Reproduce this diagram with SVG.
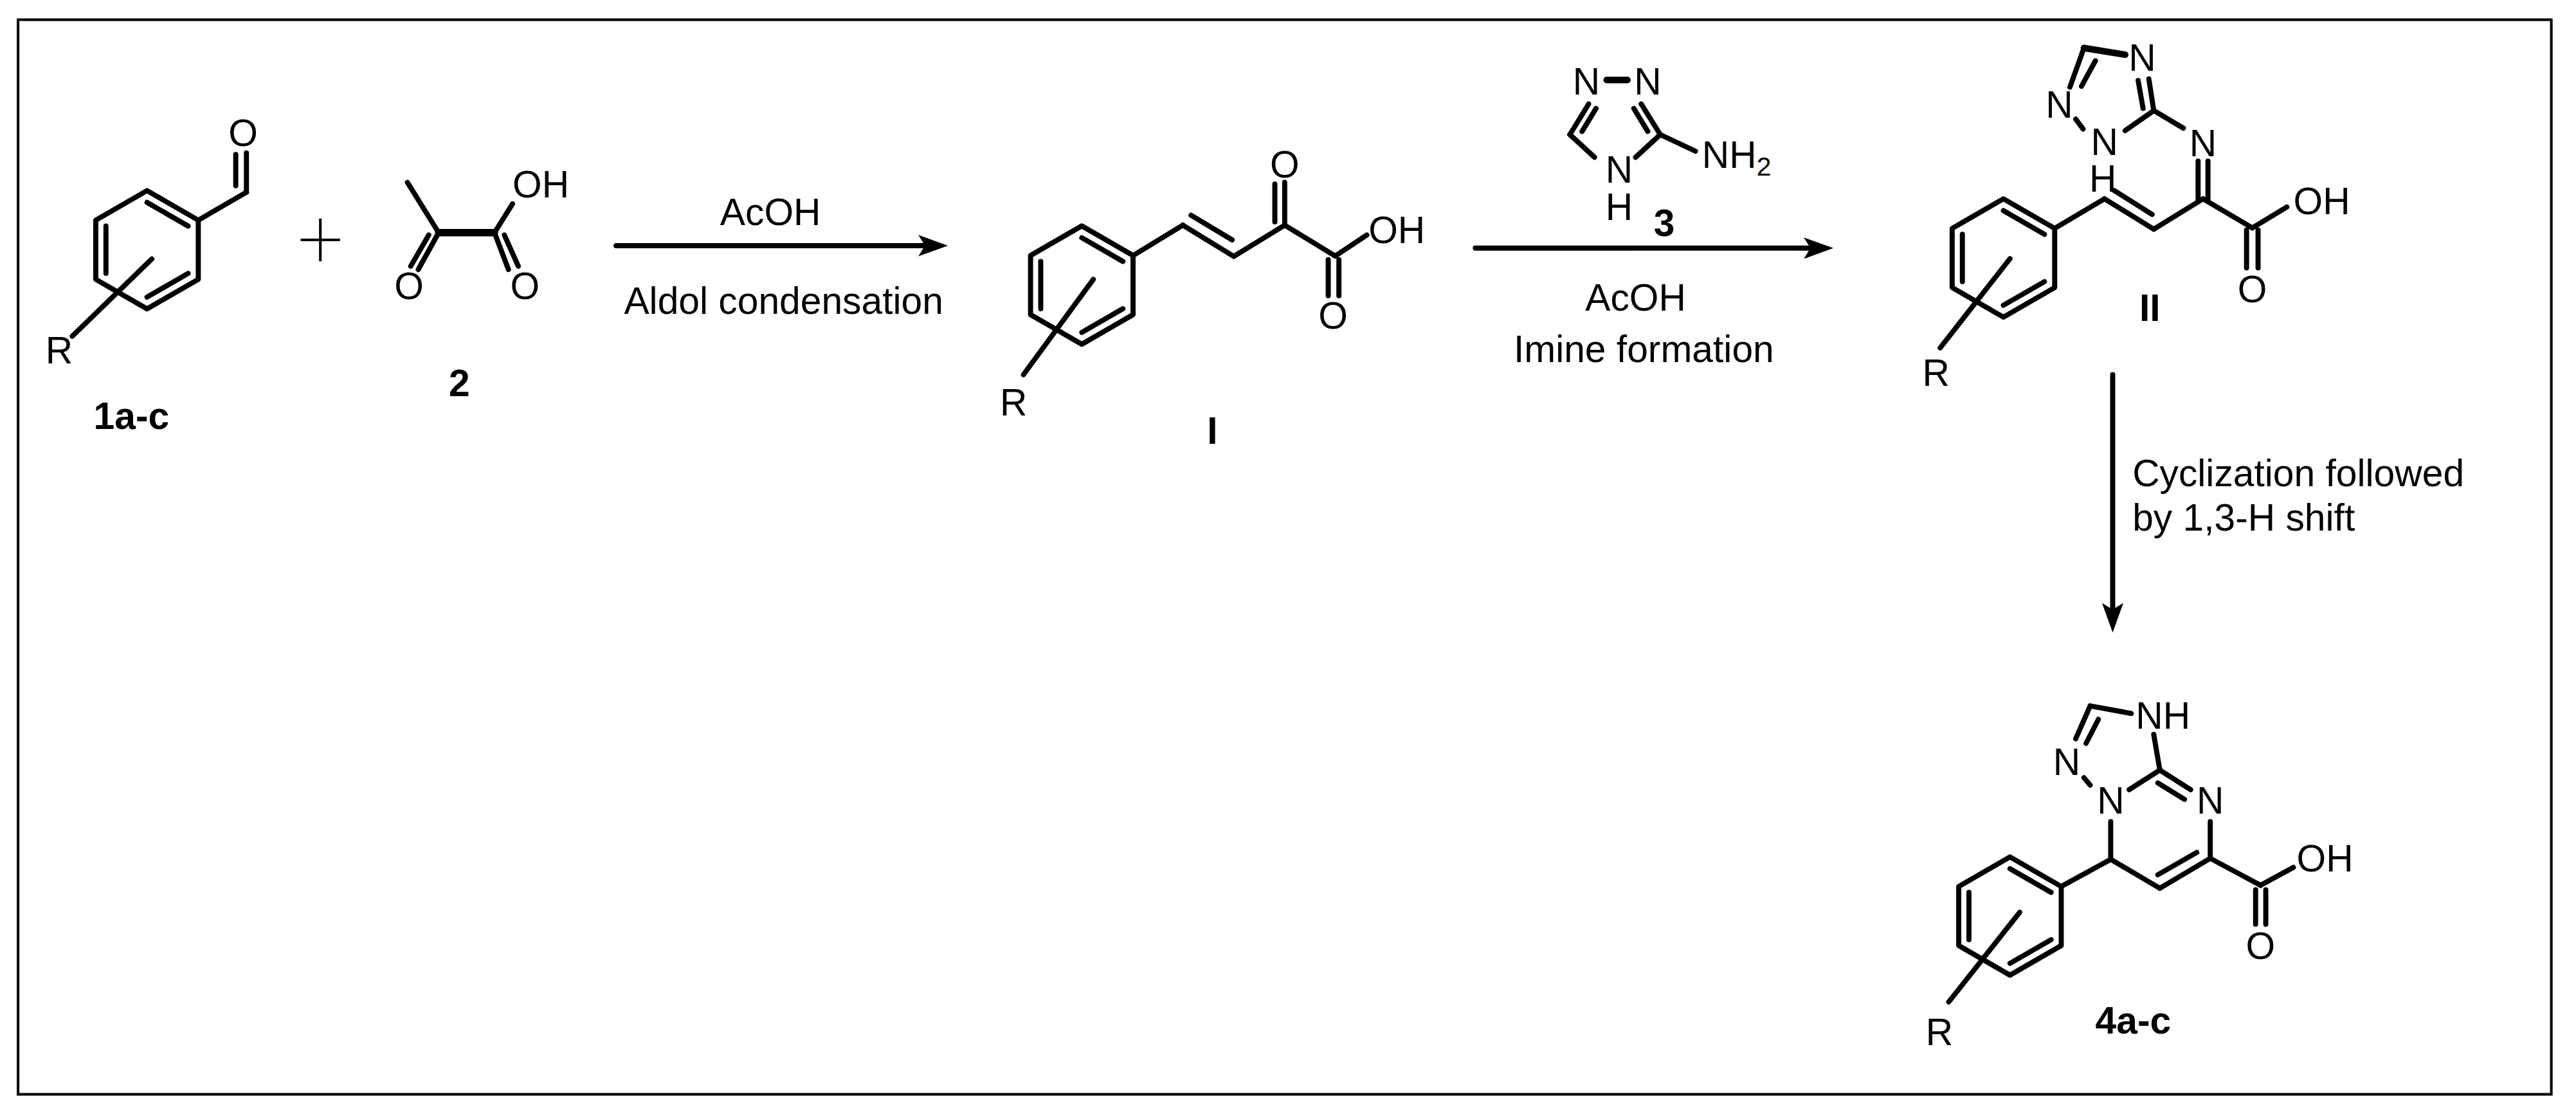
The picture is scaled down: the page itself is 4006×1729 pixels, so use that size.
<svg xmlns="http://www.w3.org/2000/svg" xmlns:xlink="http://www.w3.org/1999/xlink" width="4006" height="1729" viewBox="0 0 4006 1729">
<style>
.b{stroke:#000;stroke-width:3.1;fill:none;stroke-linecap:round;stroke-linejoin:round}
.t{font-family:"Liberation Sans",Arial,sans-serif;font-size:23px;fill:#000}
.c{text-anchor:middle}
.bold{font-weight:bold}
.thin{stroke:#000;stroke-width:1.6;fill:none}
</style>
<defs>
<g id="benz" class="b">
<polygon points="0,-36 31.2,-18 31.2,18 0,36 -31.2,18 -31.2,-18"/>
<line x1="0" y1="-28.8" x2="25" y2="-14.4"/>
<line x1="25" y1="14.4" x2="0" y2="28.8"/>
<line x1="-25" y1="14.4" x2="-25" y2="-14.4"/>
</g>
</defs>
<rect width="4006" height="1729" fill="#fff"/>
<g transform="scale(2.5548)">
<rect x="11" y="12" width="1542" height="654" class="thin"/>

<g id="cmpd1">
<use xlink:href="#benz" x="89.5" y="152"/>
<g class="b">
<line x1="120.7" y1="134" x2="150" y2="117"/>
<line x1="150" y1="117" x2="150" y2="93"/>
<line x1="143.5" y1="113" x2="143.5" y2="94"/>
<line x1="92.4" y1="157.6" x2="44" y2="204.6"/>
</g>
<text class="t c" x="148" y="89">O</text>
<text class="t c" x="36" y="221">R</text>
<text class="t c bold" x="80" y="261">1a-c</text>
</g>

<g id="plus" class="thin">
<line x1="183" y1="146" x2="207" y2="146"/>
<line x1="195" y1="133" x2="195" y2="159"/>
</g>

<g id="cmpd2">
<g class="b">
<line x1="248" y1="111" x2="267" y2="141.6"/>
<line x1="267" y1="141.6" x2="301" y2="141.6" stroke-width="4.5"/>
<line x1="267" y1="141.6" x2="254.6" y2="164"/>
<line x1="261" y1="143" x2="250" y2="162"/>
<line x1="301" y1="141.6" x2="309.5" y2="164"/>
<line x1="307" y1="143" x2="315.5" y2="162"/>
<line x1="301" y1="141.6" x2="312" y2="124"/>
</g>
<text class="t" x="312" y="120">OH</text>
<text class="t c" x="249" y="182">O</text>
<text class="t c" x="319.5" y="182">O</text>
<text class="t c bold" x="279.6" y="241">2</text>
</g>

<g id="cmpdI">
<use xlink:href="#benz" x="658.5" y="173.5"/>
<g class="b">
<line x1="689.7" y1="155.5" x2="720" y2="137"/>
<line x1="720" y1="137" x2="751" y2="156"/>
<line x1="725" y1="131" x2="750" y2="146"/>
<line x1="751" y1="156" x2="782" y2="137"/>
<line x1="782" y1="137" x2="782" y2="111"/>
<line x1="776" y1="135" x2="776" y2="112"/>
<line x1="782" y1="137" x2="812.8" y2="155.8"/>
<line x1="812.8" y1="155.8" x2="832" y2="143"/>
<line x1="808.5" y1="158" x2="808.5" y2="180"/>
<line x1="815" y1="158" x2="815" y2="180"/>
<line x1="665.5" y1="170" x2="623" y2="228"/>
</g>
<text class="t c" x="782" y="108">O</text>
<text class="t" x="833" y="148">OH</text>
<text class="t c" x="811.5" y="200">O</text>
<text class="t c" x="617" y="253">R</text>
<text class="t c bold" x="738" y="270">I</text>
</g>

<g id="cmpd3">
<g class="b">
<line x1="978" y1="48.7" x2="990.6" y2="48.7" stroke-width="4"/>
<line x1="967" y1="63.3" x2="955.6" y2="81.9"/>
<line x1="971.5" y1="66" x2="963" y2="80"/>
<line x1="999" y1="63.3" x2="1010.6" y2="81.9"/>
<line x1="994.5" y1="66" x2="1003" y2="80"/>
<line x1="955.6" y1="81.9" x2="970.6" y2="95.7"/>
<line x1="995.6" y1="95.7" x2="1010.6" y2="81.9"/>
<line x1="1010.6" y1="81.9" x2="1032" y2="92"/>
</g>
<text class="t c" x="965.6" y="57.5">N</text>
<text class="t c" x="1003" y="57.5">N</text>
<text class="t c" x="985.6" y="111">N</text>
<text class="t c" x="985.6" y="134">H</text>
<text class="t" x="1036" y="102">NH<tspan font-size="16" dy="5">2</tspan></text>
<text class="t c bold" x="1013" y="143.5">3</text>
</g>

<g id="cmpdII">
<use xlink:href="#benz" x="1219.5" y="157"/>
<g class="b">
<line x1="1250.7" y1="139" x2="1281" y2="121"/>
<line x1="1281" y1="121" x2="1311" y2="139.5"/>
<line x1="1287" y1="116" x2="1310" y2="130.5"/>
<line x1="1311" y1="139.5" x2="1341" y2="121"/>
<line x1="1338" y1="98" x2="1338" y2="121"/>
<line x1="1344" y1="98" x2="1344" y2="121"/>
<line x1="1341" y1="121" x2="1371" y2="138.7"/>
<line x1="1371" y1="138.7" x2="1392" y2="126"/>
<line x1="1367.5" y1="140" x2="1367.5" y2="163"/>
<line x1="1374.5" y1="140" x2="1374.5" y2="163"/>
<line x1="1329" y1="78" x2="1311" y2="67.3"/>
<line x1="1311" y1="67.3" x2="1308" y2="48"/>
<line x1="1304.5" y1="66" x2="1301.5" y2="49"/>
<line x1="1268.5" y1="29.2" x2="1293.6" y2="33.3" stroke-width="4"/>
<line x1="1268.5" y1="29.2" x2="1260" y2="53"/>
<line x1="1275.5" y1="37" x2="1267" y2="52.5"/>
<line x1="1263.5" y1="72.5" x2="1268" y2="78.5"/>
<line x1="1293.6" y1="79.5" x2="1311" y2="67.3"/>
<line x1="1223.5" y1="157.4" x2="1181" y2="211.7"/>
</g>
<text class="t c" x="1341" y="95">N</text>
<text class="t" x="1396" y="130.5">OH</text>
<text class="t c" x="1371" y="184">O</text>
<text class="t c" x="1304" y="43">N</text>
<text class="t c" x="1253.5" y="71.5">N</text>
<text class="t c" x="1281" y="94.5">N</text>
<text class="t c" x="1280" y="116.5">H</text>
<text class="t c" x="1178.5" y="235">R</text>
<text class="t c bold" x="1308.6" y="195.5">II</text>
</g>

<g id="cmpd4">
<use xlink:href="#benz" x="1223.5" y="557.5"/>
<g class="b">
<line x1="1254.7" y1="539.5" x2="1284.8" y2="523"/>
<line x1="1284.8" y1="523" x2="1284.8" y2="500"/>
<line x1="1284.8" y1="523" x2="1314.7" y2="540.6"/>
<line x1="1314.7" y1="540.6" x2="1345.4" y2="522.4"/>
<line x1="1313.5" y1="532.4" x2="1337.2" y2="518.8"/>
<line x1="1345.4" y1="522.4" x2="1345.4" y2="500"/>
<line x1="1345.4" y1="522.4" x2="1376" y2="538.8"/>
<line x1="1376" y1="538.8" x2="1396" y2="527.9"/>
<line x1="1373" y1="541.5" x2="1373" y2="562.5"/>
<line x1="1379.2" y1="541.5" x2="1379.2" y2="562.5"/>
<line x1="1296" y1="480.6" x2="1314.7" y2="468.7"/>
<line x1="1314.7" y1="468.7" x2="1333.5" y2="480.6"/>
<line x1="1313.5" y1="476.5" x2="1329.7" y2="486.5"/>
<line x1="1314.7" y1="468.7" x2="1311" y2="447"/>
<line x1="1272.3" y1="477.8" x2="1268.5" y2="473.3"/>
<line x1="1263.5" y1="449.6" x2="1272.3" y2="429.6"/>
<line x1="1269.8" y1="452.4" x2="1277.3" y2="437.8"/>
<line x1="1272.3" y1="429.6" x2="1297.3" y2="434.2"/>
<line x1="1229.4" y1="555.2" x2="1186.2" y2="609.8"/>
</g>
<text class="t c" x="1284.8" y="495">N</text>
<text class="t c" x="1345.4" y="495">N</text>
<text class="t" x="1398" y="530.5">OH</text>
<text class="t c" x="1376" y="583.5">O</text>
<text class="t" x="1300" y="443.3">NH</text>
<text class="t c" x="1258" y="471.5">N</text>
<text class="t c" x="1180.5" y="636">R</text>
<text class="t c bold" x="1298.5" y="629">4a-c</text>
</g>

<g id="connectors">
<line x1="375" y1="149.5" x2="566" y2="149.5" class="b" stroke-width="2.2"/>
<polygon points="577,149.5 559,143 563,149.5 559,156"/>
<line x1="898" y1="151" x2="1105" y2="151" class="b" stroke-width="2.2"/>
<polygon points="1116,151 1098,144.5 1102,151 1098,157.5"/>
<line x1="1286" y1="228" x2="1286" y2="374" class="b" stroke-width="2.2"/>
<polygon points="1286,385 1279.5,367 1286,371 1292.5,367"/>
<text class="t c" x="469" y="137" font-size="24">AcOH</text>
<text class="t c" x="477" y="191" font-size="24">Aldol condensation</text>
<text class="t c" x="995.6" y="189" font-size="24">AcOH</text>
<text class="t c" x="1000.6" y="220.5" font-size="24">Imine formation</text>
<text class="t" x="1298" y="296" font-size="24">Cyclization followed</text>
<text class="t" x="1298" y="323" font-size="24">by 1,3-H shift</text>
</g>
</g>
</svg>
